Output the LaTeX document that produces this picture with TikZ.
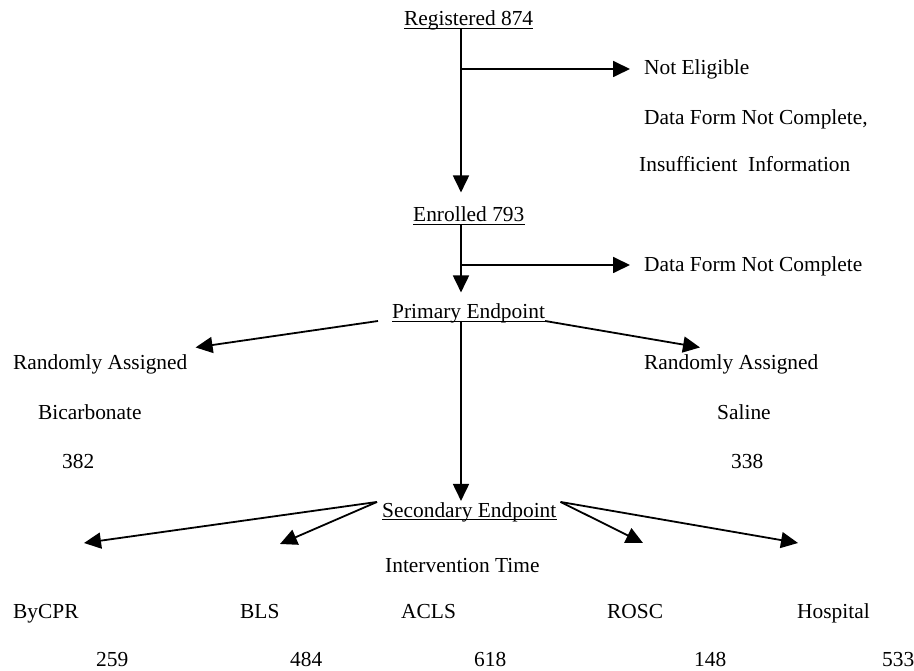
\documentclass[tikz,border=0pt]{standalone}
\usepackage{fontspec}
\setmainfont{Liberation Serif}
\usetikzlibrary{arrows.meta}
\begin{document}
\begin{tikzpicture}[x=1pt,y=-1pt,
  lbl/.style={inner sep=0pt, anchor=base west, font=\fontsize{21.4}{25}\selectfont},
  conn/.style={line width=1.8pt},
  arr/.style={conn, -{Triangle[length=17pt,width=16pt]}},
  ulline/.style={line width=1.2pt}]
\useasboundingbox (0,0) rectangle (914,671);

% nodes
\node[lbl] (reg)  at (404,26)  {Registered 874};
\node[lbl] (ne)   at (644,75)  {Not Eligible};
\node[lbl] (dfa)  at (644,125) {Data Form Not Complete,};
\node[lbl] (ins)  at (639,172) {Insufficient\ \ Information};
\node[lbl] (enr)  at (413,222) {Enrolled 793};
\node[lbl] (dfb)  at (644,272) {Data Form Not Complete};
\node[lbl] (prim) at (392,319) {Primary Endpoint};
\node[lbl] (raL)  at (13,370)  {Randomly Assigned};
\node[lbl] (bic)  at (38,420)  {Bicarbonate};
\node[lbl] (nL)   at (62,468)  {382};
\node[lbl] (raR)  at (644,370) {Randomly Assigned};
\node[lbl] (sal)  at (717,420) {Saline};
\node[lbl] (nR)   at (731,468) {338};
\node[lbl] (sec)  at (382,517) {Secondary Endpoint};
\node[lbl] (int)  at (385,572) {Intervention Time};
\node[lbl] (bycpr) at (13,618)  {ByCPR};
\node[lbl] (bls)   at (240,618) {BLS};
\node[lbl] (acls)  at (401,618) {ACLS};
\node[lbl] (rosc)  at (607,618) {ROSC};
\node[lbl] (hosp)  at (797,618) {Hospital};
\node[lbl] (n1) at (96,666)  {259};
\node[lbl] (n2) at (290,666) {484};
\node[lbl] (n3) at (474,666) {618};
\node[lbl] (n4) at (694,666) {148};
\node[lbl] (n5) at (882,666) {533};

% underlines
\foreach \n in {reg,enr,prim,sec}
  \draw[ulline] ([yshift=-2.5pt]\n.base west) -- ([yshift=-2.5pt]\n.base east);

% spine and branches
\coordinate (spine) at (461,0);
\coordinate (b1) at (461,69);
\coordinate (b2) at (461,265);
\draw[arr, shorten >=14.5pt] ([yshift=-2pt]reg.base -| spine) -- (spine |- enr.north);
\draw[arr, shorten >=14pt] (b1) -- (b1 -| ne.west);
\draw[arr, shorten >=11.5pt] ([yshift=-2pt]enr.base -| spine) -- (spine |- prim.north);
\draw[arr, shorten >=14pt] (b2) -- (b2 -| dfb.west);
\draw[arr, shorten >=1pt] ([yshift=-2pt]prim.base -| spine) -- (spine |- sec.north);

% primary endpoint diagonals
\draw[arr] ([xshift=-14pt,yshift=-2pt]prim.base west) -- ([xshift=8pt,yshift=7.5pt]raL.north east);
\draw[arr] ([yshift=-2pt]prim.base east) -- ([xshift=56pt,yshift=7.5pt]raR.north west);

% secondary endpoint diagonals
\coordinate (tA) at (84,543);
\coordinate (tB) at (280,544);
\coordinate (tC) at (643,543);
\coordinate (tD) at (798,543);
\draw[arr] ([xshift=-5pt]sec.north west) -- (tA);
\draw[arr] ([xshift=-5pt]sec.north west) -- (tB);
\draw[arr] ([xshift=4pt]sec.north east) -- (tC);
\draw[arr] ([xshift=4pt]sec.north east) -- (tD);
\end{tikzpicture}
\end{document}
